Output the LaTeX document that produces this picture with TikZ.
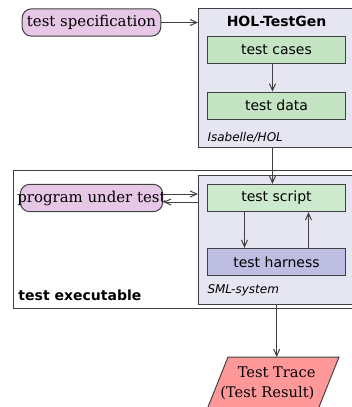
\documentclass[tikz,border=0pt]{standalone}
\usepackage{fontspec}
\setmainfont{DejaVu Serif}
\setsansfont{DejaVu Sans}
\usepackage{tikz}
\usetikzlibrary{arrows.meta}
\tikzset{>={Straight Barb[length=5pt,width=4.5pt]}}
\colorlet{edgegray}{black!75}
\definecolor{specpink}{RGB}{230,200,230}
\definecolor{envlilac}{RGB}{230,230,242}
\definecolor{casegreen}{RGB}{196,228,196}
\definecolor{scriptgreen}{RGB}{206,234,206}
\definecolor{harnessblue}{RGB}{190,190,226}
\definecolor{tracered}{RGB}{255,153,153}
\tikzstyle{infile}=[draw=edgegray,rounded corners=7pt,fill=specpink,minimum width=104pt,minimum height=20.5pt,
	inner xsep=1pt,font=\fontsize{11.2}{13}\selectfont]
\tikzstyle{envbox}=[draw=edgegray,fill=envlilac,anchor=north west,minimum width=131pt,inner sep=0pt]
\tikzstyle{stepbox}=[draw=edgegray,minimum width=104pt,minimum height=20.5pt,font=\sffamily\fontsize{10.5}{12}\selectfont]
\tikzstyle{envname}=[anchor=west,inner sep=0pt,font=\sffamily\itshape\fontsize{9}{11}\selectfont]
\tikzstyle{conn}=[edgegray,->]

\begin{document}
\begin{tikzpicture}[x=0.75pt,y=-0.75pt,line width=0.75pt]
	\clip (0,0) rectangle (352,407);
	
	% OUTER FRAME
	\node[draw=edgegray,fill=white,anchor=north west,minimum width=268pt,minimum height=103.5pt,inner sep=0pt]
	(exe) at (13,170) {};
	\node[anchor=west,inner sep=0pt,font=\sffamily\bfseries\fontsize{10.5}{12}\selectfont] (exename) at (18,295) {test executable};
	
	% ENVIRONMENTS
	\node[envbox,minimum height=104pt] (hol) at (198,8) {};
	\node[inner sep=0pt,font=\sffamily\bfseries\fontsize{10.5}{12}\selectfont] (holname) at (276.5,21.5) {HOL-TestGen};
	\node[envname] (isa) at (207,137) {Isabelle/HOL};
	\node[envbox,minimum height=97pt] (sml) at (198,175) {};
	\node[envname] (smlname) at (207,290) {SML-system};
	
	% STEPS
	\node[stepbox,fill=casegreen] (cases) at (276.5,49.7) {test cases};
	\node[stepbox,fill=casegreen] (data) at (276.5,105.7) {test data};
	\node[stepbox,fill=scriptgreen] (script) at (276.5,198) {test script};
	\node[stepbox,fill=harnessblue] (harness) at (276.5,262) {test harness};
	
	% FILES
	\node[infile] (spec) at (91.5,22.5) {test specification};
	\node[infile,inner xsep=-2.2pt] (put) at (91.5,198) {program under test};
	\filldraw[draw=edgegray,fill=tracered] (228,357) -- (339,357) -- (317,412) -- (206,412) -- cycle;
	\node[inner sep=0pt,align=center,font=\fontsize{11}{15}\selectfont]
	(trace) at (272,383) {\hspace*{7pt}Test Trace\\(Test Result)\hspace*{7pt}};
	
	% CONNECTORS
	\draw[conn] (spec) -- (spec -| hol.west);
	\draw[conn] ([xshift=-3pt]cases.south) -- ([xshift=-3pt]data.north);
	\draw[conn] ([xshift=-3pt]hol.south -| cases) -- ([xshift=-3pt]script.north);
	\draw[conn] ([yshift=3pt]put.east) -- ([yshift=3pt]put.east -| sml.west);
	\draw[conn] ([yshift=-3pt]put.east -| sml.west) -- ([yshift=-3pt]put.east);
	\draw[conn] ([xshift=-24pt]script.south) -- ([xshift=-24pt]harness.north);
	\draw[conn] ([xshift=24pt]harness.north) -- ([xshift=24pt]script.south);
	\coordinate (tracetop) at (276.7,357);
	\draw[conn] (tracetop |- sml.south) -- (tracetop);
	
\end{tikzpicture}
\end{document}
